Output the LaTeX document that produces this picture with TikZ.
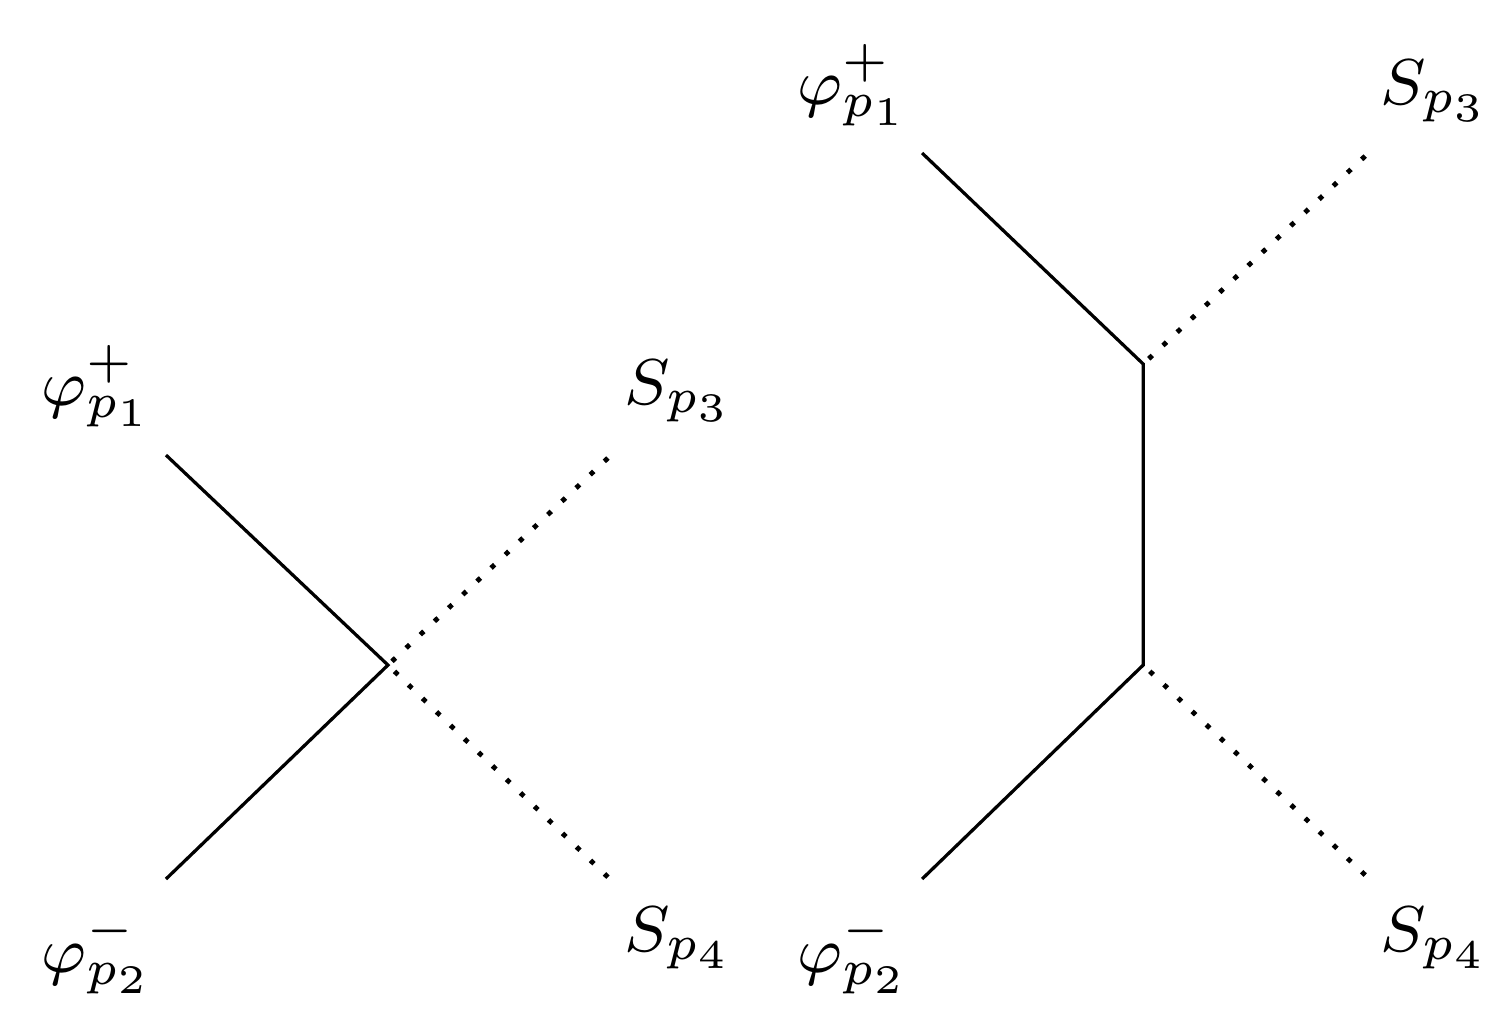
\documentclass[tikz,border=0pt]{standalone}
\usetikzlibrary{positioning}

\tikzset{
  neutral/.style={line width=0.6pt, dash pattern=on 0.6pt off 1.8pt},
  lbl/.style={font=\footnotesize, inner sep=0pt}
}

\begin{document}
\begin{tikzpicture}
\useasboundingbox (-1.683, -1.566) rectangle (4.876, 2.885);

\coordinate (v) at (0, 0);
\coordinate (a1) at (-0.963, 0.911);
\coordinate (a2) at (-0.963, -0.928);
\coordinate (b3) at (0.954, 0.898);
\coordinate (b4) at (0.954, -0.920);

\node[lbl] (phiA) at (-1.26, 1.21) {$\varphi^+_{p_1}$};
\node[lbl] (phiB) at (-1.26, -1.25) {$\varphi^-_{p_2}$};
\node[lbl] (sA) at (1.262, 1.19) {$S_{p_3}$};
\node[lbl] (sB) at (1.262, -1.184) {$S_{p_4}$};

\draw (a1) -- (v) -- (a2);
\draw [neutral] (b3) -- (v) -- (b4);

\coordinate (w1) at (3.276, 1.306);
\coordinate (w2) at (3.276, 0);
\coordinate (c1) at (2.317, 2.221);
\coordinate (c2) at (2.317, -0.928);
\coordinate (d3) at (4.239, 2.208);
\coordinate (d4) at (4.239, -0.911);

\node[lbl] (phiC) at (2.02, 2.515) {$\varphi^+_{p_1}$};
\node[lbl] (phiD) at (2.02, -1.25) {$\varphi^-_{p_2}$};
\node[lbl] (sC) at (4.542, 2.49) {$S_{p_3}$};
\node[lbl] (sD) at (4.542, -1.184) {$S_{p_4}$};

\draw (c1) -- (w1) -- (w2) -- (c2);
\draw [neutral] (d3) -- (w1);
\draw [neutral] (d4) -- (w2);

\end{tikzpicture}
\end{document}
